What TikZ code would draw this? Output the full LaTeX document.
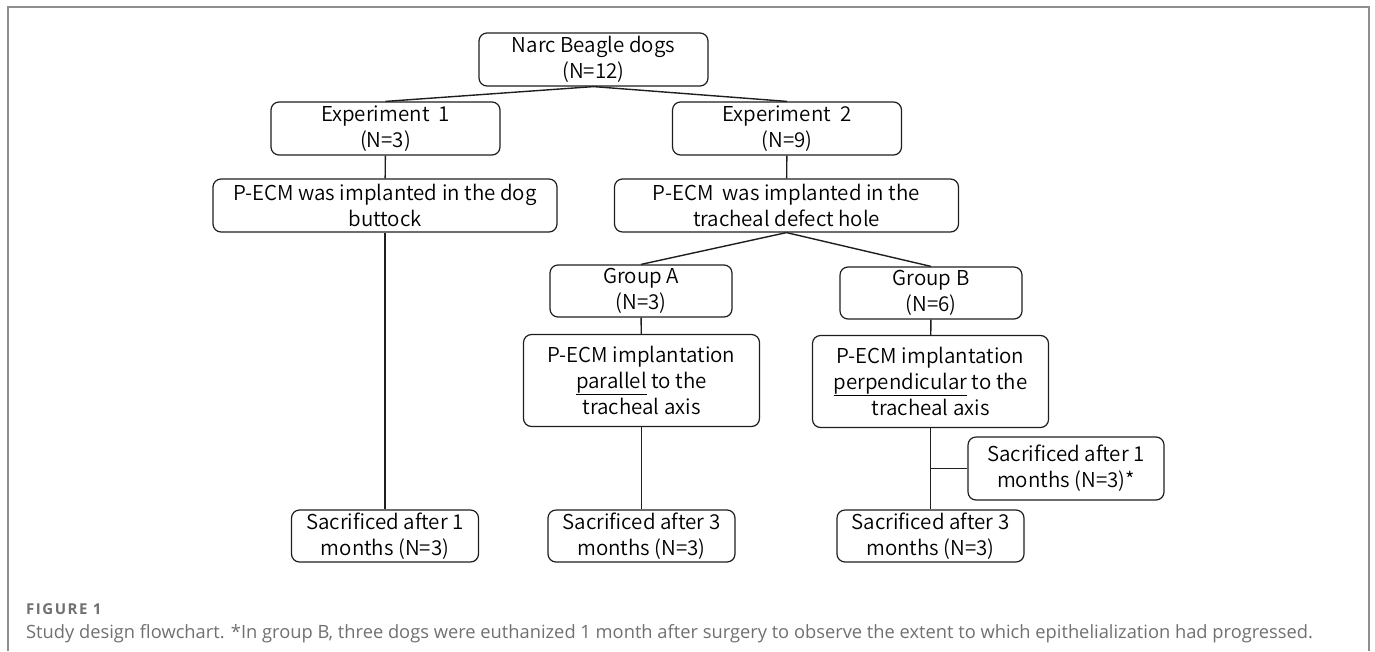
\documentclass[tikz,border=0pt]{standalone}
\usepackage{fontspec}
\usepackage{tikz}
\usetikzlibrary{calc}
\newfontfamily\boxfont{Noto Sans CJK JP}[UprightFont=* DemiLight]
\newfontfamily\capfont{Open Sans}
\definecolor{framegray}{HTML}{8E8E8E}
\definecolor{capgray}{HTML}{707070}
\definecolor{inkgray}{HTML}{1E1E1E}
\tikzstyle{box}=[draw=inkgray,line width=1.2pt,rounded corners=8pt,align=center,inner sep=2pt,font={\boxfont\fontsize{20.5}{26}\selectfont}]
\tikzstyle{wide}=[box,minimum width=229pt,minimum height=53pt]
\tikzstyle{long}=[box,minimum width=344pt,minimum height=53pt]
\tikzstyle{group}=[box,minimum width=182pt,minimum height=52pt]
\tikzstyle{impl}=[box,minimum width=236pt,minimum height=92pt]
\tikzstyle{sacr}=[box,minimum width=187pt,minimum height=52pt]
\tikzstyle{link}=[draw=inkgray,line width=1.4pt]
\tikzstyle{frame}=[draw=framegray,line width=1.4pt]
\tikzstyle{caption}=[anchor=base west,inner sep=0pt,text=capgray]

\begin{document}
\begin{tikzpicture}[x=1pt,y=-1pt]
	\useasboundingbox (0,0) rectangle (1375,651);
	\draw[frame] (8,651) -- (8,7) -- (1369,7) -- (1369,651);

	\node[wide] (dogs) at (593.5,59.5) {Narc Beagle dogs\\(N=12)};
	\node[wide] (expone) at (385.5,128.5) {Experiment\ \ 1\\(N=3)};
	\node[wide] (exptwo) at (787,128.5) {Experiment\ \ 2\\(N=9)};
	\node[long] (buttock) at (385,205.5) {P-ECM was implanted in the dog\\buttock};
	\node[long] (defect) at (786.5,205.5) {P-ECM\ \ was implanted in the\\tracheal defect hole};
	\node[group] (grpA) at (641,291) {Group A\\(N=3)};
	\node[group] (grpB) at (931,293) {Group B\\(N=6)};
	\node[impl] (implA) at (641.5,380.5) {P-ECM implantation\\\underline{parallel} to the\\tracheal axis};
	\node[impl] (implB) at (930.5,381.5) {P-ECM implantation\\\underline{perpendicular} to the\\tracheal axis};
	\node[sacr] (sacone) at (385,536) {Sacrificed after 1\\months (N=3)};
	\node[sacr] (sacA) at (641.5,536) {Sacrificed after 3\\months (N=3)};
	\node[sacr,minimum width=196pt,minimum height=63pt] (sacBone) at (1066,468.5) {Sacrificed after 1\\months (N=3)*};
	\node[sacr] (sacBthree) at (930.5,536) {Sacrificed after 3\\months (N=3)};

	\draw[link] (dogs.south) -- (expone.north);
	\draw[link] (dogs.south) -- (exptwo.north);
	\draw[link] (expone) -- (buttock);
	\draw[link] (buttock) -- (sacone);
	\draw[link] (exptwo) -- (defect);
	\draw[link] (defect.south) -- (grpA.north);
	\draw[link] (defect.south) -- (grpB.north);
	\draw[link] (grpA) -- (implA);
	\draw[link] (implA) -- (sacA);
	\draw[link] (grpB) -- (implB);
	\draw[link] (implB) -- (sacBthree);
	\coordinate (split) at (implB.south |- sacBone.west);
	\draw[link] (split) -- (sacBone.west);

	\node[caption,font={\capfont\bfseries\fontsize{15}{18}\selectfont\addfontfeatures{LetterSpace=10}}] (figlabel) at (26,614) {FIGURE 1};
	\node[caption,font={\capfont\fontsize{18.3}{21}\selectfont}] (figtext) at (26,638) {Study design flowchart. *In group B, three dogs were euthanized 1 month after surgery to observe the extent to which epithelialization had progressed.};
\end{tikzpicture}
\end{document}
